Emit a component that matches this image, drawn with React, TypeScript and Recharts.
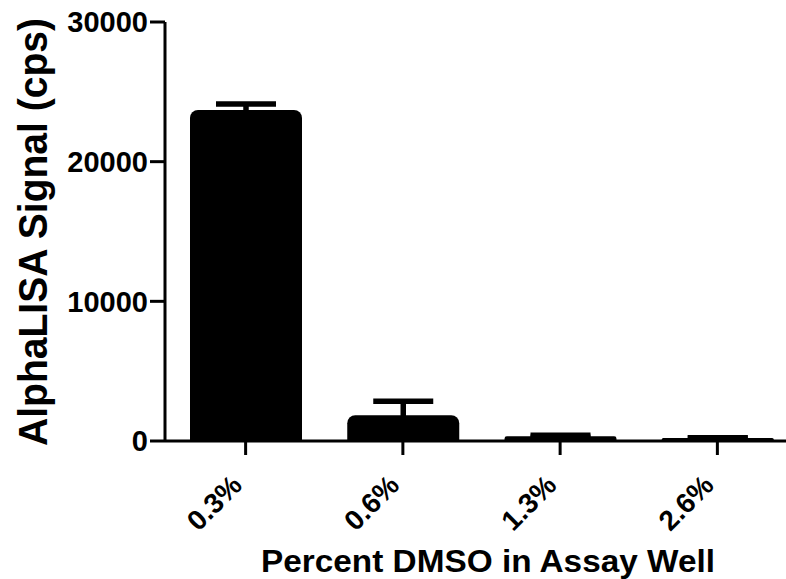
import React from 'react';
import { BarChart, Bar, XAxis, YAxis, ErrorBar } from 'recharts';

const categories = ['0.3%', '0.6%', '1.3%', '2.6%'];
const signal = [23700, 1850, 340, 220];
const errorPlus = [430, 1000, 80, 10];
const yTicks = [0, 10000, 20000, 30000];

const data = categories.map((c, i) => ({ name: c, value: signal[i], err: errorPlus[i] }));

const FONT = '"Liberation Sans", Arial, sans-serif';

const XTick = (props: any) => {
  const { x, y, payload } = props;
  return (
    <g transform={`translate(${x - 2},${y + 30})`}>
      <text
        x={0}
        y={0}
        textAnchor="end"
        transform="rotate(-45)"
        fontFamily={FONT}
        fontWeight="bold"
        fontSize={28}
        fill="#000"
      >
        {payload.value}
      </text>
    </g>
  );
};

export default function App() {
  return (
    <div
      style={{
        position: 'absolute',
        left: 0,
        top: 0,
        width: 786,
        height: 579,
        overflow: 'hidden',
        background: '#fff',
      }}
    >
      <BarChart
        width={800}
        height={579}
        data={data}
        margin={{ top: 22, right: 4, bottom: 0, left: 0 }}
      >
        <XAxis
          dataKey="name"
          axisLine={{ stroke: '#000', strokeWidth: 3 }}
          tickLine={{ stroke: '#000', strokeWidth: 3 }}
          tickSize={14}
          tickMargin={2}
          tick={<XTick />}
          interval={0}
          padding={{ left: 2, right: 0 }}
          height={138}
        />
        <YAxis
          width={165}
          domain={[0, 30000]}
          ticks={yTicks}
          interval={0}
          axisLine={{ stroke: '#000', strokeWidth: 3 }}
          tickLine={{ stroke: '#000', strokeWidth: 3 }}
          tickSize={15}
          tickMargin={2}
          tick={{ fill: '#000', fontFamily: FONT, fontWeight: 'bold', fontSize: 29 }}
        />
        <Bar dataKey="value" fill="#000" barSize={112} radius={[8, 8, 0, 0]} isAnimationActive={false}>
          <ErrorBar
            dataKey="err"
            width={30}
            stroke="#000"
            strokeWidth={5.5}
            direction="y"
            isAnimationActive={false}
          />
        </Bar>
        <text
          x={488}
          y={572}
          textAnchor="middle"
          fontFamily={FONT}
          fontWeight="bold"
          fontSize={32}
          fill="#000"
          textLength={454}
          lengthAdjust="spacingAndGlyphs"
        >
          Percent DMSO in Assay Well
        </text>
        <text
          x={47}
          y={232}
          transform="rotate(-90, 47, 232)"
          textAnchor="middle"
          fontFamily={FONT}
          fontWeight="bold"
          fontSize={40}
          fill="#000"
          textLength={428}
          lengthAdjust="spacingAndGlyphs"
        >
          AlphaLISA Signal (cps)
        </text>
      </BarChart>
    </div>
  );
}
